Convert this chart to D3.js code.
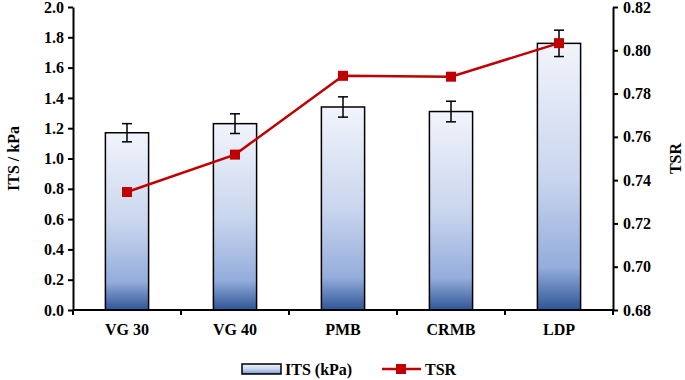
<!DOCTYPE html>
<html>
<head>
<meta charset="utf-8">
<script src="https://cdn.jsdelivr.net/npm/d3@7"></script>
<style>
    body { margin: 0; background: #fff; }
    svg text { font-family: 'Liberation Serif', 'Times New Roman', 'DejaVu Serif', serif !important; font-weight: bold; }
</style>
</head>
<body>
<div id="chart"></div>
<script>
// Data
const categories = ['VG 30', 'VG 40', 'PMB', 'CRMB', 'LDP'];
const itsValues = [1.17, 1.23, 1.34, 1.31, 1.76];
const itsErrors = [0.06, 0.065, 0.067, 0.068, 0.087];
const tsrValues = [0.7345, 0.7518, 0.7882, 0.7878, 0.8033];
const leftTicks = [0, 0.2, 0.4, 0.6, 0.8, 1.0, 1.2, 1.4, 1.6, 1.8, 2.0];
const rightTicks = [0.68, 0.70, 0.72, 0.74, 0.76, 0.78, 0.80, 0.82];

const dataset = categories.map((c, i) => ({
    cat: c, its: itsValues[i], err: itsErrors[i], tsr: tsrValues[i]
}));

// Dimensions
const width = 685;
const height = 380;
const margins = { left: 73, right: 72, top: 7, bottom: 70 };
const innerW = width - margins.left - margins.right;
const innerH = height - margins.top - margins.bottom;
const fontSize = 16;

const svg = d3.select('#chart')
    .append('svg')
    .attr('width', width)
    .attr('height', height);

const defs = svg.append('defs');
const grad = defs.append('linearGradient')
    .attr('id', 'barGrad')
    .attr('x1', 0).attr('y1', 0).attr('x2', 0).attr('y2', 1);
grad.append('stop').attr('offset', '0%').attr('stop-color', '#f1f4fb');
grad.append('stop').attr('offset', '50%').attr('stop-color', '#cad6ee');
grad.append('stop').attr('offset', '84%').attr('stop-color', '#94addc');
grad.append('stop').attr('offset', '100%').attr('stop-color', '#2f5597');

const container = svg.append('g')
    .attr('transform', `translate(${margins.left}, ${margins.top})`);

// Scales
const xScale = d3.scaleBand()
    .domain(categories)
    .range([0, innerW])
    .paddingInner(0.6)
    .paddingOuter(0.3);

const yScale = d3.scaleLinear().domain([0, 2]).range([innerH, 0]);
const y2Scale = d3.scaleLinear().domain([0.68, 0.82]).range([innerH, 0]);

// Bars
container.selectAll('rect.bar')
    .data(dataset)
    .join('rect')
    .attr('class', 'bar')
    .attr('x', d => xScale(d.cat))
    .attr('y', d => yScale(d.its))
    .attr('width', xScale.bandwidth())
    .attr('height', d => innerH - yScale(d.its))
    .attr('fill', 'url(#barGrad)')
    .attr('stroke', '#000')
    .attr('stroke-width', 1.5);

// Error bars
const errG = container.selectAll('g.err')
    .data(dataset)
    .join('g')
    .attr('class', 'err')
    .attr('stroke', '#000')
    .attr('stroke-width', 1.5);
const cx = d => xScale(d.cat) + xScale.bandwidth() / 2;
errG.append('line')
    .attr('x1', cx).attr('x2', cx)
    .attr('y1', d => yScale(d.its + d.err))
    .attr('y2', d => yScale(d.its - d.err));
errG.append('line')
    .attr('x1', d => cx(d) - 5).attr('x2', d => cx(d) + 5)
    .attr('y1', d => yScale(d.its + d.err))
    .attr('y2', d => yScale(d.its + d.err));
errG.append('line')
    .attr('x1', d => cx(d) - 5).attr('x2', d => cx(d) + 5)
    .attr('y1', d => yScale(d.its - d.err))
    .attr('y2', d => yScale(d.its - d.err));

// TSR line
const lineGenerator = d3.line()
    .x(cx)
    .y(d => y2Scale(d.tsr));

container.append('path')
    .datum(dataset)
    .attr('d', lineGenerator)
    .attr('fill', 'none')
    .attr('stroke', '#c00000')
    .attr('stroke-width', 2.5);

container.selectAll('rect.marker')
    .data(dataset)
    .join('rect')
    .attr('class', 'marker')
    .attr('x', d => cx(d) - 5)
    .attr('y', d => y2Scale(d.tsr) - 5)
    .attr('width', 10)
    .attr('height', 10)
    .attr('fill', '#c00000');

// Axes
const yAxis = d3.axisLeft(yScale)
    .tickValues(leftTicks)
    .tickFormat(d3.format('.1f'))
    .tickSize(5)
    .tickSizeOuter(0);
const y2Axis = d3.axisRight(y2Scale)
    .tickValues(rightTicks)
    .tickFormat(d3.format('.2f'))
    .tickSize(5)
    .tickSizeOuter(0);

const yAxisGroup = container.append('g').call(yAxis);
const y2AxisGroup = container.append('g')
    .attr('transform', `translate(${innerW}, 0)`)
    .call(y2Axis);

// x axis with ticks at category boundaries
const xAxisGroup = container.append('g')
    .attr('transform', `translate(0, ${innerH})`);
xAxisGroup.append('line')
    .attr('x1', 0).attr('x2', innerW)
    .attr('stroke', '#000').attr('stroke-width', 2);
const step = xScale.step();
xAxisGroup.selectAll('line.tick')
    .data(d3.range(categories.length + 1))
    .join('line')
    .attr('class', 'tick')
    .attr('x1', i => i * step).attr('x2', i => i * step)
    .attr('y1', 0).attr('y2', 5)
    .attr('stroke', '#000').attr('stroke-width', 2);
xAxisGroup.selectAll('text')
    .data(categories)
    .join('text')
    .attr('x', d => xScale(d) + xScale.bandwidth() / 2)
    .attr('y', 25)
    .attr('text-anchor', 'middle')
    .attr('font-size', fontSize)
    .text(d => d);

[yAxisGroup, y2AxisGroup].forEach(g => {
    g.attr('font-family', null).attr('font-size', null);
    g.select('.domain').attr('stroke-width', 2);
    g.selectAll('.tick line').attr('stroke-width', 2);
    g.selectAll('.tick text')
        .attr('font-size', fontSize)
        .attr('fill', '#000');
});
yAxisGroup.selectAll('.tick text').attr('x', -9);
y2AxisGroup.selectAll('.tick text').attr('x', 10);

// Axis titles
svg.append('text')
    .attr('transform', `translate(19, ${margins.top + innerH / 2}) rotate(-90)`)
    .attr('text-anchor', 'middle')
    .attr('font-size', fontSize)
    .text('ITS / kPa');

svg.append('text')
    .attr('transform', `translate(681, ${margins.top + innerH / 2}) rotate(-90)`)
    .attr('text-anchor', 'middle')
    .attr('font-size', fontSize)
    .text('TSR');

// Legend
const legend = svg.append('g').attr('transform', 'translate(0, 369)');
legend.append('rect')
    .attr('x', 242).attr('y', -5)
    .attr('width', 39).attr('height', 10)
    .attr('fill', 'url(#barGrad)')
    .attr('stroke', '#000')
    .attr('stroke-width', 1.5);
legend.append('text')
    .attr('x', 285).attr('y', 6)
    .attr('font-size', fontSize)
    .text('ITS (kPa)');
legend.append('line')
    .attr('x1', 382).attr('x2', 421)
    .attr('stroke', '#c00000').attr('stroke-width', 2.5);
legend.append('rect')
    .attr('x', 396).attr('y', -5)
    .attr('width', 10).attr('height', 10)
    .attr('fill', '#c00000');
legend.append('text')
    .attr('x', 425).attr('y', 6)
    .attr('font-size', fontSize)
    .text('TSR');
</script>
</body>
</html>
